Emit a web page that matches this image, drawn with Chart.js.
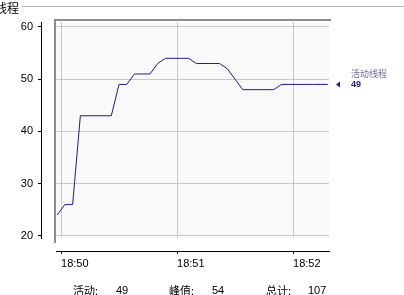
<!DOCTYPE html>
<html>
<head>
<meta charset="utf-8">
<script src="https://cdn.jsdelivr.net/npm/chart.js@4/dist/chart.umd.min.js"></script>
<style>
html, body { margin: 0; padding: 0; background: #fff; width: 404px; height: 295px; overflow: hidden; }
#wrap { position: relative; width: 404px; height: 295px; }
#chart { position: absolute; left: 0; top: 0; }
.title { position: absolute; left: -5px; top: 0; font: 12px "Noto Sans CJK SC", sans-serif; line-height: 15px; color: #000; z-index: 2; }
.rule { position: absolute; left: 22px; top: 6px; width: 382px; height: 1px; background: #b8b8b8; z-index: 3; }
.legend { position: absolute; left: 351px; font: 9px "Noto Sans CJK SC", sans-serif; line-height: 10px; z-index: 2; }
.legend .name { color: #6a6aa8; }
.legend .val { color: #1c1c8c; font-weight: bold; font-family: "Liberation Sans", sans-serif; }
.stat { position: absolute; top: 283px; font: 11px "Noto Sans CJK SC", sans-serif; line-height: 14px; color: #000; z-index: 2; }
.num { font-family: "Liberation Sans", sans-serif; }
</style>
</head>
<body>
<div id="wrap">
  <canvas id="chart" width="404" height="295"></canvas>
  <div class="title">线程</div>
  <div class="rule"></div>
  <div class="legend" id="legend"><div class="name">活动线程</div><div class="val" id="legendVal"></div></div>
  <div class="stat" style="left:73px">活动:</div>
  <div class="stat num" id="statActive" style="left:116px"></div>
  <div class="stat" style="left:169px">峰值:</div>
  <div class="stat num" id="statPeak" style="left:212px"></div>
  <div class="stat" style="left:266px">总计:</div>
  <div class="stat num" id="statTotal" style="left:308px"></div>
</div>
<script>
// secondes depuis 18:50:00
const sampleSeconds = [-2, 2, 6, 10, 14, 18, 22, 26, 30, 34, 38, 42, 46, 50, 54, 58, 62, 66,
                       70, 74, 78, 82, 86, 90, 94, 98, 102, 106, 110, 114, 118, 122, 126, 130, 134, 138];
const threadCounts = [24, 26, 26, 43, 43, 43, 43, 43, 49, 49, 51, 51, 51, 53, 54, 54, 54, 54,
                      53, 53, 53, 53, 52, 50, 48, 48, 48, 48, 48, 49, 49, 49, 49, 49, 49, 49];
const tickSeconds = [0, 60, 120];
const tickLabels = ['18:50', '18:51', '18:52'];
const yTicks = [20, 30, 40, 50, 60];
const seriesName = '活动线程';
const activeThreads = 49;
const peakThreads = 54;
const totalThreads = 107;

document.getElementById('legendVal').innerText = activeThreads;
document.getElementById('statActive').innerText = activeThreads;
document.getElementById('statPeak').innerText = peakThreads;
document.getElementById('statTotal').innerText = totalThreads;

Chart.defaults.font.family = '"Liberation Sans", sans-serif';
Chart.defaults.font.size = 10;
Chart.defaults.color = '#000';

const xRange = { min: -2.6, max: 138.6 };
const yRange = { min: 19.6, max: 60.95 };

const setXTicks = s => { s.ticks = tickSeconds.map(v => ({ value: v })); };
const setYTicks = s => { s.ticks = yTicks.map(v => ({ value: v })); };

// cadre du graphique + marqueur de la dernière valeur
const framePlugin = {
    id: 'frame',
    beforeDraw(chart) {
        const { ctx, chartArea: a } = chart;
        ctx.save();
        ctx.fillStyle = '#f9f9f9';
        ctx.fillRect(a.left, a.top, a.right - a.left, a.bottom - a.top);
        ctx.fillStyle = '#8c8c8c';
        ctx.fillRect(a.left - 2, a.top - 3, a.right - a.left + 4, 2);
        ctx.fillRect(a.left - 2, a.top - 3, 2, a.bottom - a.top + 8);
        ctx.restore();
    },
    afterDraw(chart) {
        const { ctx, chartArea: a } = chart;
        const y = chart.scales.y.getPixelForValue(threadCounts[threadCounts.length - 1]);
        ctx.save();
        ctx.fillStyle = '#1c1c8c';
        ctx.beginPath();
        ctx.moveTo(a.right + 7, y);
        ctx.lineTo(a.right + 11, y - 3);
        ctx.lineTo(a.right + 11, y + 3);
        ctx.closePath();
        ctx.fill();
        ctx.restore();
        document.getElementById('legend').style.top = Math.round(y - 15) + 'px';
    }
};

new Chart(document.getElementById('chart').getContext('2d'), {
    type: 'line',
    data: {
        datasets: [{
            label: seriesName,
            data: sampleSeconds.map((t, i) => ({ x: t, y: threadCounts[i] })),
            borderColor: '#1c1c8c',
            borderWidth: 1,
            pointRadius: 0,
            tension: 0,
            fill: false
        }]
    },
    plugins: [framePlugin],
    options: {
        responsive: false,
        animation: false,
        devicePixelRatio: 1,
        layout: { padding: { left: 0, top: 22, right: 75, bottom: 14 } },
        plugins: { legend: { display: false }, tooltip: { enabled: false } },
        scales: {
            x: {
                type: 'linear', ...xRange,
                afterBuildTicks: setXTicks,
                ticks: { display: false },
                grid: { color: '#c8c8c8', drawTicks: false },
                border: { display: false },
                afterFit: s => { s.height = 13; }
            },
            xAxis: {
                type: 'linear', position: 'bottom', weight: 1, ...xRange,
                afterBuildTicks: setXTicks,
                ticks: { align: 'start', padding: 3, font: { size: 11 }, maxRotation: 0,
                         callback: (v, i) => tickLabels[i] },
                grid: { drawOnChartArea: false, tickLength: 3, color: '#000' },
                border: { color: '#000' },
                afterFit: s => { s.height = 30; }
            },
            y: {
                type: 'linear', ...yRange,
                afterBuildTicks: setYTicks,
                ticks: { display: false },
                grid: { color: '#c8c8c8', drawTicks: false },
                border: { display: false },
                afterFit: s => { s.width = 15; }
            },
            yAxis: {
                type: 'linear', position: 'left', weight: 1, ...yRange,
                afterBuildTicks: setYTicks,
                ticks: { padding: 5, font: { size: 11 } },
                grid: { drawOnChartArea: false, tickLength: 3, color: '#000' },
                border: { color: '#000' },
                afterFit: s => { s.width = 41; }
            }
        }
    }
});
</script>
</body>
</html>
